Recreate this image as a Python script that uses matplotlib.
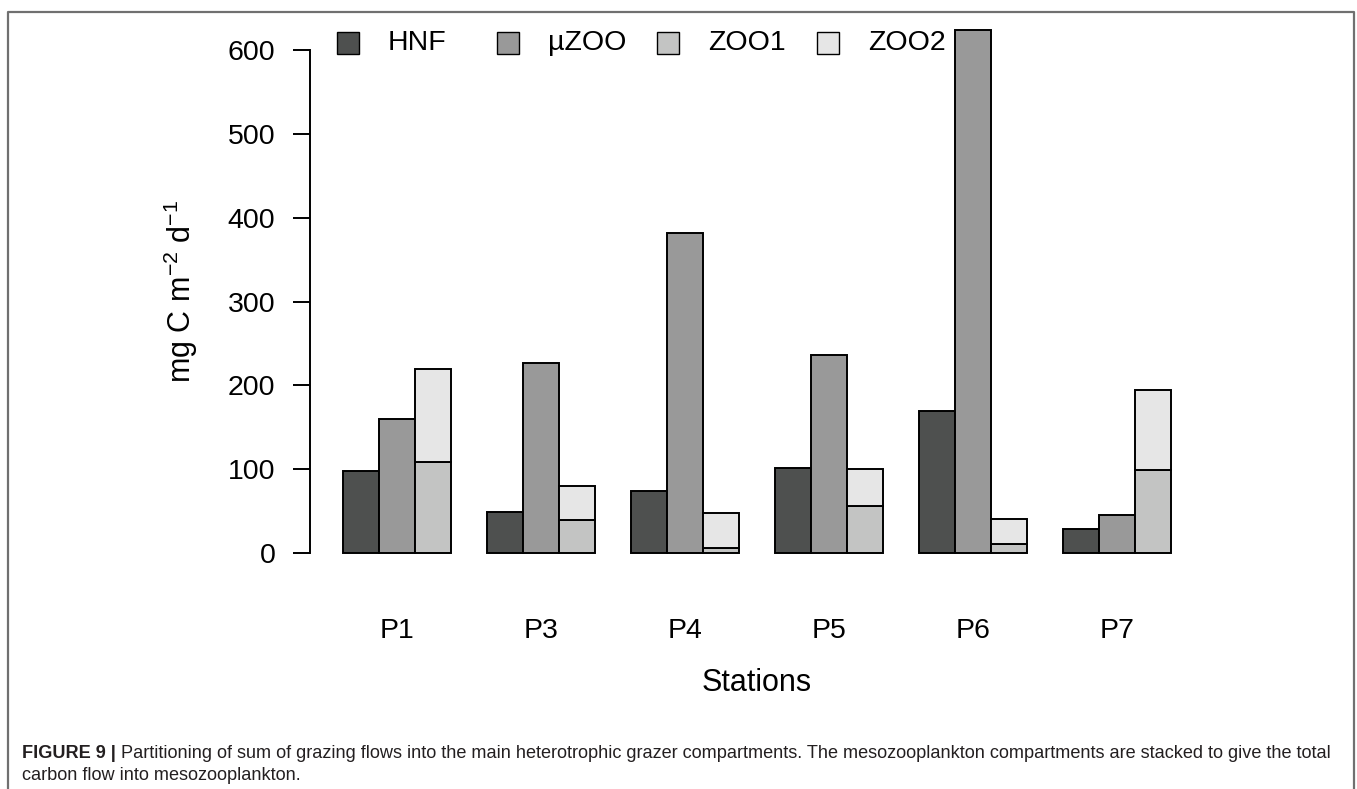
import numpy as np
import matplotlib
matplotlib.use("Agg")
import matplotlib.pyplot as plt
from matplotlib.patches import Rectangle
from matplotlib.lines import Line2D

# ---- data ----
stations = ["P1", "P3", "P4", "P5", "P6", "P7"]
hnf = [98, 49, 74, 101, 170, 29]
uzoo = [160, 227, 382, 236, 624, 46]
zoo1 = [109, 39, 6, 56, 11, 99]
zoo2 = [111, 41, 42, 44, 30, 95]
series_names = ["HNF", "\u00b5ZOO", "ZOO1", "ZOO2"]
colors = ["#4e504f", "#999999", "#c3c4c3", "#e6e6e6"]
yticks = [0, 100, 200, 300, 400, 500, 600]

plt.rcParams['font.family'] = ['Liberation Sans', 'DejaVu Sans']
plt.rcParams['mathtext.fontset'] = 'custom'
plt.rcParams['mathtext.rm'] = 'Liberation Sans'
plt.rcParams['mathtext.it'] = 'Liberation Sans:italic'
plt.rcParams['mathtext.bf'] = 'Liberation Sans:bold'

W, H = 1357, 789
fig = plt.figure(figsize=(W / 100, H / 100), dpi=100)

def fx(px):
    return px / W

def fy(py):
    return 1 - py / H

ax = fig.add_axes([fx(310), fy(574), fx(1204) - fx(310), fy(9) - fy(574)])

n = len(stations)
base = 1 + 4 * np.arange(n)
ekw = dict(edgecolor="black", linewidth=1.4, width=1.0, align="edge")
ax.bar(base, hnf, color=colors[0], **ekw)
ax.bar(base + 1, uzoo, color=colors[1], **ekw)
ax.bar(base + 2, zoo1, color=colors[2], **ekw)
ax.bar(base + 2, zoo2, bottom=zoo1, color=colors[3], **ekw)

ax.set_xlim(0.08, 24.92)
ax.set_ylim(-24.96, 648.96)

for s in ["top", "right", "bottom"]:
    ax.spines[s].set_visible(False)
ax.spines["left"].set_bounds(0, 600)
ax.spines["left"].set_linewidth(1.4)

ax.set_yticks(yticks)
ax.set_yticklabels([str(v) for v in yticks], fontsize=20.5)
ax.tick_params(axis="y", length=12, width=1.4, pad=13)

ax.set_xticks(base + 1.5)
ax.set_xticklabels(stations, fontsize=20.5)
ax.tick_params(axis="x", length=0, pad=32)

ax.set_xlabel("Stations", fontsize=22)
ax.xaxis.set_label_coords(0.5, -(683 - 574) / 565)
ax.xaxis.label.set_va("center")

ax.set_ylabel(r"mg C m$^{-2}$ d$^{-1}$", fontsize=22)
ax.yaxis.set_label_coords((181 - 310) / 894, 0.5)
ax.yaxis.label.set_va("center")

# ---- legend (R-style horizontal, equal spacing) ----
leg_y = 43
sq = 22
for i, (name, c) in enumerate(zip(series_names, colors)):
    x0 = 337 + 160 * i
    fig.add_artist(Rectangle((fx(x0), fy(leg_y + sq / 2)), sq / W, sq / H,
                             transform=fig.transFigure, facecolor=c,
                             edgecolor="black", linewidth=1.0))
    fig.text(fx(x0 + 51), fy(leg_y), name, fontsize=20.5, ha="left", va="center")

# ---- frame border ----
bc = "#707070"
fig.add_artist(Line2D([fx(8), fx(8), fx(1354), fx(1354)],
                      [0, fy(12), fy(12), 0], transform=fig.transFigure,
                      color=bc, linewidth=1.6))

# ---- caption ----
cap_col = "#231f20"
cap_fs = 13.1
fig.canvas.draw()
t1 = fig.text(fx(22), fy(754), "FIGURE 9 |", fontsize=cap_fs, fontweight="bold",
              color=cap_col, ha="left", va="center")
r = fig.canvas.get_renderer()
bb = t1.get_window_extent(r)
fig.text(fx(bb.x1 + 5), fy(754),
         "Partitioning of sum of grazing flows into the main heterotrophic grazer compartments. "
         "The mesozooplankton compartments are stacked to give the total",
         fontsize=cap_fs, color=cap_col, ha="left", va="center")
fig.text(fx(22), fy(776), "carbon flow into mesozooplankton.", fontsize=cap_fs,
         color=cap_col, ha="left", va="center")

fig.savefig("out.png", dpi=100)
